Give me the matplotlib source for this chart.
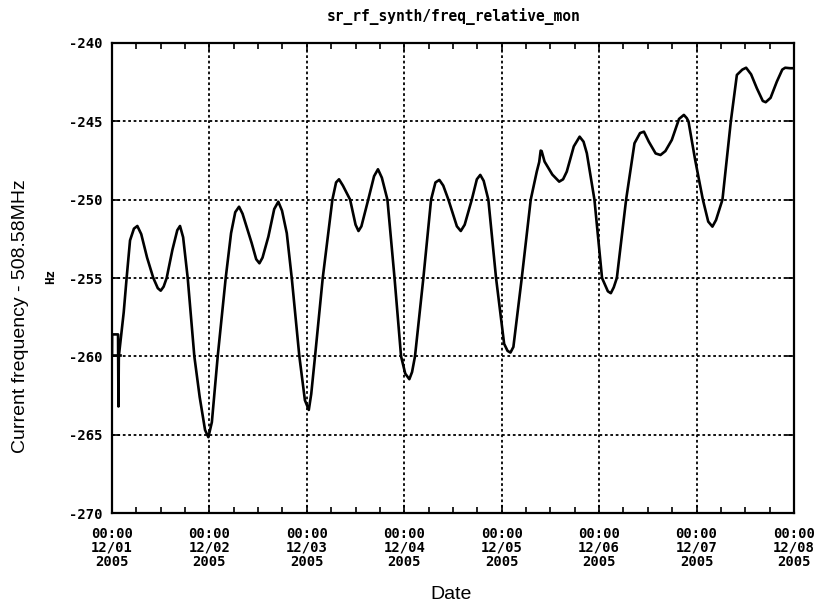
"""Recreate sr_rf_synth/freq_relative_mon plot (one week, Dec 2005)."""

import matplotlib
matplotlib.use('Agg')
import matplotlib.pyplot as plt
import matplotlib.dates as mdates
import numpy as np
import pandas as pd

# time in days after 2005-12-01 00:00, frequency offset in Hz
days = [
    0.000, 0.001, 0.062, 0.066, 0.070, 0.090, 0.120, 0.150, 0.185, 0.225,
    0.260, 0.300, 0.360, 0.424, 0.470, 0.500, 0.530, 0.561, 0.620, 0.670,
    0.698, 0.730, 0.777, 0.845, 0.900, 0.955, 0.989, 1.025, 1.085, 1.167,
    1.222, 1.265, 1.304, 1.340, 1.434, 1.480, 1.513, 1.545, 1.605, 1.665,
    1.707, 1.745, 1.794, 1.845, 1.923, 1.980, 2.020, 2.045, 2.084, 2.163,
    2.262, 2.300, 2.330, 2.370, 2.444, 2.500, 2.530, 2.560, 2.630, 2.690,
    2.730, 2.770, 2.827, 2.900, 2.967, 3.010, 3.052, 3.080, 3.110, 3.196,
    3.275, 3.320, 3.360, 3.400, 3.453, 3.540, 3.580, 3.620, 3.693, 3.745,
    3.780, 3.815, 3.863, 3.942, 4.025, 4.060, 4.090, 4.120, 4.206, 4.298,
    4.360, 4.385, 4.400, 4.410, 4.440, 4.520, 4.590, 4.630, 4.668, 4.740,
    4.800, 4.840, 4.874, 4.952, 5.030, 5.090, 5.120, 5.150, 5.182, 5.277,
    5.363, 5.420, 5.460, 5.510, 5.580, 5.630, 5.680, 5.746, 5.820, 5.870,
    5.900, 5.917, 5.986, 6.065, 6.120, 6.163, 6.200, 6.266, 6.352, 6.414,
    6.470, 6.509, 6.560, 6.619, 6.680, 6.710, 6.760, 6.824, 6.880, 6.910,
    6.960, 7.000,
]
freq = [
    -259.90, -258.60, -258.60, -263.20, -260.00, -258.90, -257.20, -255.00, -252.60, -251.85,
    -251.68, -252.20, -253.70, -255.00, -255.65, -255.81, -255.55, -255.00, -253.20, -251.95,
    -251.68, -252.40, -255.00, -260.00, -262.60, -264.70, -265.16, -264.20, -260.00, -255.00,
    -252.14, -250.80, -250.45, -250.90, -252.78, -253.80, -254.06, -253.70, -252.36, -250.60,
    -250.13, -250.70, -252.14, -255.00, -260.00, -262.80, -263.42, -262.40, -260.00, -255.00,
    -250.00, -248.90, -248.70, -249.10, -250.00, -251.60, -252.00, -251.70, -250.00, -248.50,
    -248.06, -248.60, -250.00, -255.00, -260.00, -261.10, -261.46, -261.00, -260.00, -255.00,
    -250.00, -248.90, -248.74, -249.10, -250.00, -251.70, -252.00, -251.60, -250.00, -248.70,
    -248.42, -248.80, -250.00, -255.00, -259.20, -259.65, -259.76, -259.40, -255.00, -250.00,
    -248.21, -247.60, -246.87, -246.90, -247.57, -248.40, -248.85, -248.70, -248.21, -246.60,
    -245.98, -246.30, -247.04, -250.00, -255.00, -255.85, -255.97, -255.60, -255.00, -250.00,
    -246.40, -245.75, -245.66, -246.30, -247.05, -247.15, -246.90, -246.19, -244.85, -244.59,
    -244.80, -245.00, -247.47, -250.00, -251.40, -251.72, -251.30, -250.00, -245.00, -242.04,
    -241.70, -241.58, -242.00, -242.89, -243.70, -243.78, -243.50, -242.47, -241.70, -241.58,
    -241.61, -241.61,
]
# short horizontal piece drawn at the very start of the record
start_days = [0.000, 0.082]
start_freq = [-259.90, -259.90]
yticks = [-270, -265, -260, -255, -250, -245, -240]

start = pd.Timestamp('2005-12-01 00:00')
t = start + pd.to_timedelta(np.array(days), unit='D')
t0 = start + pd.to_timedelta(np.array(start_days), unit='D')

pix = 'DejaVu Sans Mono'
fig = plt.figure(figsize=(8.17, 6.02), dpi=100)
ax = fig.add_axes([0.1371, 0.1478, 0.8347, 0.7808])

ax.plot(t, freq, color='black', lw=1.9, solid_joinstyle='round')
ax.plot(t0, start_freq, color='black', lw=1.9)

ax.set_xlim(start, start + pd.Timedelta(days=7))
ax.set_ylim(-270, -240)
ax.set_yticks(yticks)
ax.set_yticklabels([str(v) for v in yticks], family=pix, weight='bold', fontsize=10)

ax.xaxis.set_major_locator(mdates.DayLocator())
ax.xaxis.set_minor_locator(mdates.HourLocator(byhour=[6, 12, 18]))
ax.xaxis.set_major_formatter(mdates.DateFormatter('%H:%M\n%m/%d\n%Y'))
for lab in ax.get_xticklabels():
    lab.set_family(pix)
    lab.set_weight('bold')
    lab.set_fontsize(10)
    lab.set_linespacing(1.0)

ax.grid(True, which='major', color='black', lw=1.3, linestyle=(0, (1.5, 1.5)))
ax.tick_params(which='both', direction='in', top=True, right=True, colors='black')
ax.tick_params(which='major', length=6, width=1.2, pad=10)
ax.tick_params(axis='y', pad=7)
ax.tick_params(which='minor', length=4, width=1.2)
for sp in ax.spines.values():
    sp.set_linewidth(1.6)

fig.text(0.555, 0.972, 'sr_rf_synth/freq_relative_mon', ha='center', va='center',
         family=pix, weight='bold', fontsize=10.5)
fig.text(0.025, 0.475, 'Current frequency - 508.58MHz', rotation=90, ha='center',
         va='center', family='Liberation Sans', fontsize=14)
fig.text(0.062, 0.54, 'Hz', rotation=90, ha='center', va='center',
         family=pix, weight='bold', fontsize=9)
fig.text(0.552, 0.012, 'Date', ha='center', va='center',
         family='Liberation Sans', fontsize=14)

fig.savefig('out.png', dpi=100, facecolor='white')
